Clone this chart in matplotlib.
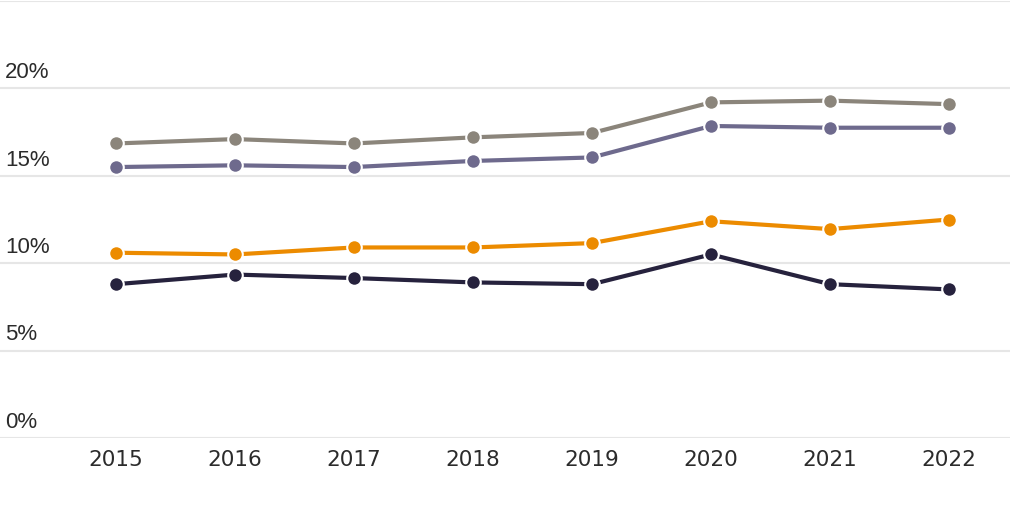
import numpy as np
import matplotlib.pyplot as plt
import matplotlib.transforms as mtransforms

years = [2015, 2016, 2017, 2018, 2019, 2020, 2021, 2022]
gray_vals = [16.85, 17.1, 16.85, 17.2, 17.45, 19.2, 19.3, 19.1]
purple_vals = [15.5, 15.6, 15.5, 15.85, 16.05, 17.85, 17.75, 17.75]
orange_vals = [10.6, 10.5, 10.9, 10.9, 11.15, 12.4, 11.95, 12.5]
dark_vals = [8.8, 9.35, 9.15, 8.9, 8.8, 10.5, 8.8, 8.5]
yticks = [0, 5, 10, 15, 20]

plt.rcParams['font.family'] = ['Liberation Sans', 'DejaVu Sans']

fig = plt.figure(figsize=(10.24, 5.12), dpi=100, facecolor='w')
ax = fig.add_axes([0, 74/512, 1010/1024, 437/512])

series = [
    (gray_vals, '#8b857b'),
    (purple_vals, '#6e6a8d'),
    (orange_vals, '#ec8b00'),
    (dark_vals, '#26223d'),
]
for vals, col in series:
    ax.plot(years, vals, color=col, lw=3, marker='o', ms=10.5,
            markeredgecolor='white', markeredgewidth=1.5, zorder=3,
            solid_capstyle='butt')

ax.set_xlim(2015 - 116/119, 2022 + 61/119)
ax.set_ylim(0, 25)

for t in yticks + [25]:
    ax.axhline(t, color='#e6e6e6', lw=1.5, zorder=1)

trans = mtransforms.blended_transform_factory(ax.transAxes, ax.transData)
for t in yticks:
    ax.text(5/1010, t + 0.3, f'{t}%', transform=trans, ha='left', va='bottom',
            fontsize=16, color='#2b2b2b')

ax.set_xticks(years)
ax.set_xticklabels([str(y) for y in years], fontsize=15.5, color='#2b2b2b',
                   family='DejaVu Sans')
ax.tick_params(axis='x', length=0, pad=9)
ax.set_yticks([])
for s in ax.spines.values():
    s.set_visible(False)

fig.savefig('out.png', dpi=100, facecolor='w')
